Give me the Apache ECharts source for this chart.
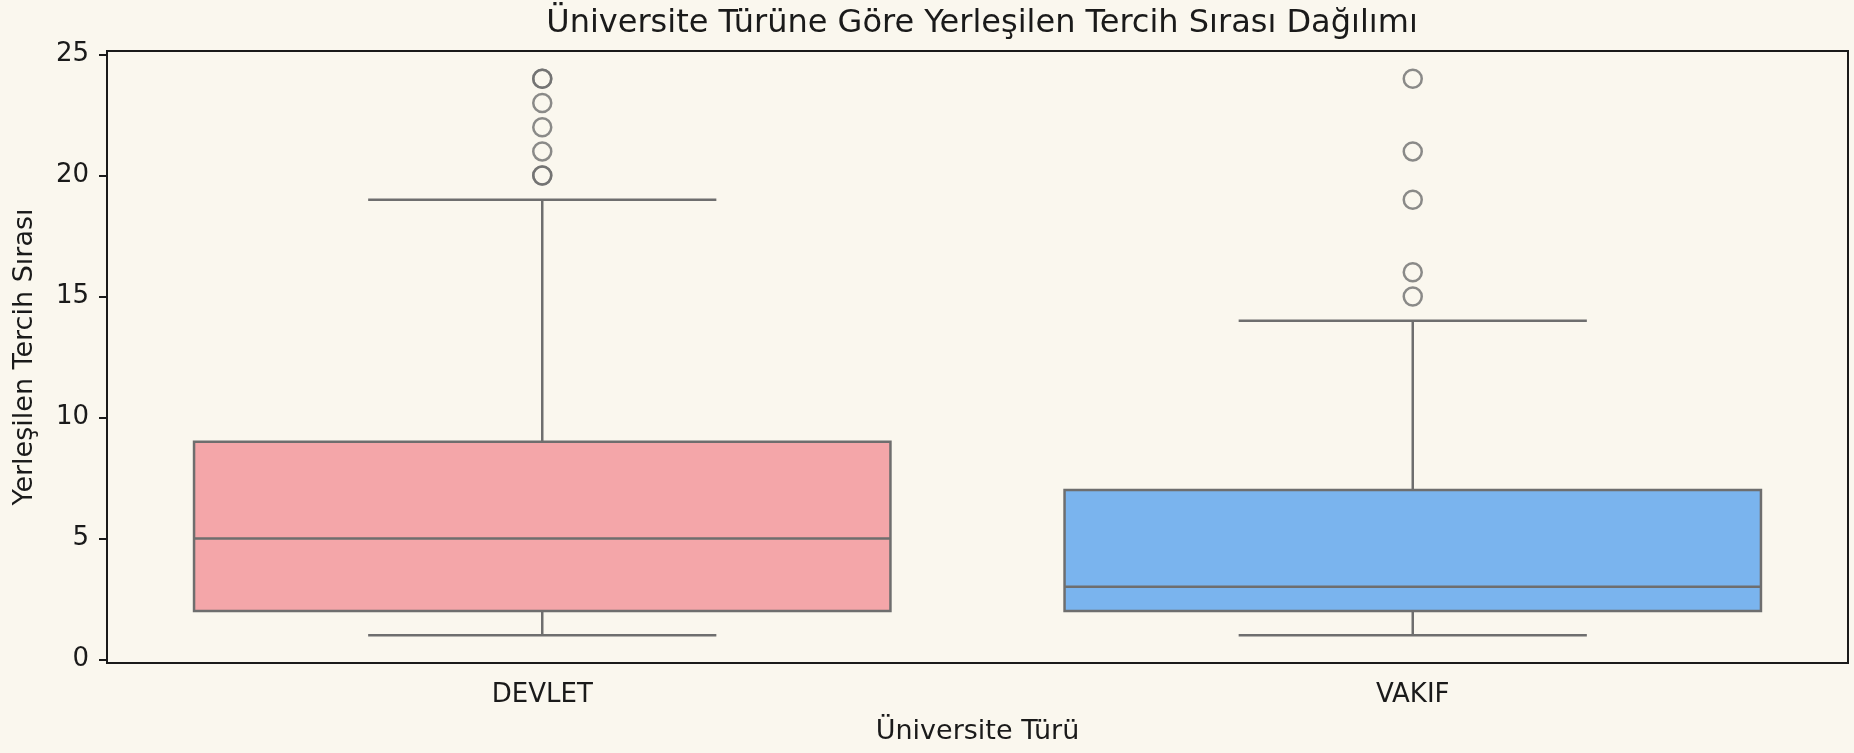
<!DOCTYPE html>
<html>
<head>
<meta charset="utf-8">
<script src="https://cdn.jsdelivr.net/npm/echarts@6/dist/echarts.min.js"></script>
<style>
html,body{margin:0;padding:0;background:#faf7ee;}
#chart{width:1854px;height:753px;}
</style>
</head>
<body>
<div id="chart"></div>
<script>
const categories = ['DEVLET', 'VAKIF'];
// [min, q1, median, q3, max]
const devletBox = [1, 2, 5, 9, 19];
const vakifBox = [1, 2, 3, 7, 14];
const devletOutliers = [20, 20, 21, 22, 23, 24, 24];
const vakifOutliers = [15, 16, 19, 21, 24];
const boxColors = ['#f4a6a9', '#7ab4ee'];
const yTicks = [0, 5, 10, 15, 20, 25];

const font = 'DejaVu Sans';
const lineColor = '#6e6e6e';

const boxData = [[0].concat(devletBox), [1].concat(vakifBox)];
const outlierData = devletOutliers.map(v => [0, v]).concat(vakifOutliers.map(v => [1, v]));

const chart = echarts.init(document.getElementById('chart'), null, {renderer: 'canvas'});
chart.setOption({
  backgroundColor: '#faf7ee',
  animation: false,
  title: {
    text: 'Üniversite Türüne Göre Yerleşilen Tercih Sırası Dağılımı',
    left: 977, textAlign: 'center', top: 3,
    textStyle: {fontFamily: font, fontSize: 32, fontWeight: 'normal', color: '#1a1a1a'}
  },
  grid: {
    left: 107, right: 6, top: 51, bottom: 90,
    show: true, backgroundColor: '#faf7ee', borderColor: '#1a1a1a', borderWidth: 2
  },
  xAxis: {
    type: 'category', data: categories, boundaryGap: true,
    name: 'Üniversite Türü', nameLocation: 'middle', nameGap: 55,
    nameTextStyle: {fontFamily: font, fontSize: 27, color: '#1a1a1a'},
    axisLine: {onZero: false, lineStyle: {color: '#1a1a1a', width: 2}},
    axisTick: {alignWithLabel: true, length: 8, lineStyle: {color: '#1a1a1a', width: 2}},
    axisLabel: {fontFamily: font, fontSize: 26, color: '#1a1a1a', margin: 19},
    splitLine: {show: false}
  },
  yAxis: {
    type: 'value', min: -0.15, max: 25.15,
    name: 'Yerleşilen Tercih Sırası', nameLocation: 'middle', nameGap: 69,
    nameTextStyle: {fontFamily: font, fontSize: 27, color: '#1a1a1a'},
    axisLine: {show: true, onZero: false, lineStyle: {color: '#1a1a1a', width: 2}},
    axisTick: {show: true, length: 8, customValues: yTicks, lineStyle: {color: '#1a1a1a', width: 2}},
    axisLabel: {fontFamily: font, fontSize: 26, color: '#1a1a1a', margin: 18, customValues: yTicks},
    splitLine: {show: false}
  },
  series: [
    {
      type: 'custom',
      data: boxData,
      encode: {x: 0, y: [1, 2, 3, 4, 5]},
      renderItem: function (params, api) {
        const c = api.value(0);
        const band = api.size([1, 0])[0];
        const bw = band * 0.8;
        const cw = bw / 2;
        const pMin = api.coord([c, api.value(1)]);
        const pQ1 = api.coord([c, api.value(2)]);
        const pMed = api.coord([c, api.value(3)]);
        const pQ3 = api.coord([c, api.value(4)]);
        const pMax = api.coord([c, api.value(5)]);
        const x = pMin[0];
        const ls = {stroke: lineColor, lineWidth: 2.5};
        return {
          type: 'group',
          children: [
            {type: 'line', shape: {x1: x, y1: pQ3[1], x2: x, y2: pMax[1]}, style: ls},
            {type: 'line', shape: {x1: x, y1: pMin[1], x2: x, y2: pQ1[1]}, style: ls},
            {type: 'line', shape: {x1: x - cw / 2, y1: pMax[1], x2: x + cw / 2, y2: pMax[1]}, style: ls},
            {type: 'line', shape: {x1: x - cw / 2, y1: pMin[1], x2: x + cw / 2, y2: pMin[1]}, style: ls},
            {type: 'rect', shape: {x: x - bw / 2, y: pQ3[1], width: bw, height: pQ1[1] - pQ3[1]},
             style: {fill: boxColors[params.dataIndex], stroke: lineColor, lineWidth: 2.5}},
            {type: 'line', shape: {x1: x - bw / 2, y1: pMed[1], x2: x + bw / 2, y2: pMed[1]}, style: ls}
          ]
        };
      }
    },
    {
      type: 'scatter',
      data: outlierData,
      symbol: 'circle', symbolSize: 18,
      itemStyle: {color: 'rgba(0,0,0,0)', borderColor: lineColor, borderWidth: 2.5}
    }
  ]
});
</script>
</body>
</html>
